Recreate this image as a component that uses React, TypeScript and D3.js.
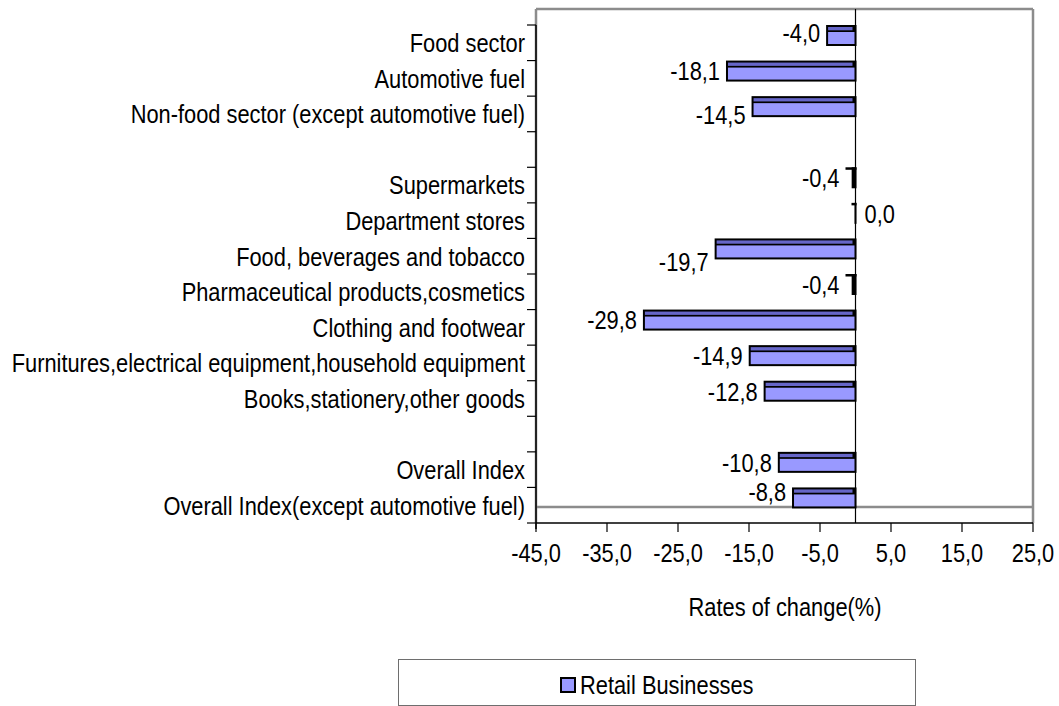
import React from "react";
import * as d3 from "d3";

const categories = [
  "Food sector",
  "Automotive fuel",
  "Non-food sector (except automotive fuel)",
  "",
  "Supermarkets",
  "Department stores",
  "Food, beverages and tobacco",
  "Pharmaceutical products,cosmetics",
  "Clothing and footwear",
  "Furnitures,electrical equipment,household equipment",
  "Books,stationery,other goods",
  "",
  "Overall Index",
  "Overall Index(except automotive fuel)",
];
const values: (number | null)[] = [
  -4.0, -18.1, -14.5, null, -0.4, 0.0, -19.7, -0.4, -29.8, -14.9, -12.8, null, -10.8, -8.8,
];
const xTickValues = [-45, -35, -25, -15, -5, 5, 15, 25];
const seriesName = "Retail Businesses";
const axisTitle = "Rates of change(%)";

const FONT = "'Liberation Sans', Arial, sans-serif";
const FS = 26;
const SX = 0.84;
const HALF = 9.3; // half cap height, for vertical centering

const fmt = (v: number) => d3.format(".1f")(v).replace(".", ",").replace("−", "-");

// small label nudges (vertical) to mimic the reference placement
const labelDy: Record<number, number> = { 0: -3, 2: 8, 6: 13, 13: -6 };

function T({ x, y, anchor, children }: { x: number; y: number; anchor: string; children: React.ReactNode }) {
  return (
    <text
      transform={`translate(${x},${y}) scale(${SX},1)`}
      textAnchor={anchor}
      fontFamily={FONT}
      fontSize={FS}
      fill="#000"
    >
      {children}
    </text>
  );
}

export default function App() {
  const W = 1059, H = 706;
  const plotL = 536, plotR = 1033, plotT = 9, plotB = 507;
  const axisT = 25, axisB = 523;

  const x = d3.scaleLinear().domain([-45, 25]).range([plotL, plotR]);
  const y = d3.scaleBand<number>().domain(categories.map((_, i) => i)).range([axisT, axisB]).padding(0);
  const bw = y.bandwidth();
  const barH = 21;
  const zx = x(0);
  const boundaries = d3.range(categories.length + 1).map((i) => axisT + i * bw);

  return (
    <svg width={W} height={H} style={{ position: "absolute", left: 0, top: 0, background: "#fff" }}>
      {/* grey plot border */}
      <line x1={plotL} x2={plotR} y1={plotT} y2={plotT} stroke="#8c8c8c" strokeWidth={2.5} />
      <line x1={plotL} x2={plotL} y1={plotT} y2={axisB} stroke="#8c8c8c" strokeWidth={2.5} />
      <line x1={plotR} x2={plotR} y1={plotT} y2={axisB} stroke="#8c8c8c" strokeWidth={2.5} />
      <line x1={plotL} x2={plotR} y1={plotB} y2={plotB} stroke="#8c8c8c" strokeWidth={2.5} />

      {/* zero line */}
      <line x1={zx} x2={zx} y1={plotT} y2={axisB} stroke="#000" strokeWidth={1.2} />

      {/* bars */}
      {values.map((v, i) => {
        if (v === null) return null;
        const yb = y(i)!;
        const x0 = Math.min(x(v), zx);
        const w = Math.max(zx - x0, 0);
        const outerL = x0 - 1;
        const outerR = zx + 1;
        const small = w <= 4;
        const stripL = v === 0 ? zx - 3 : Math.min(x0, zx - 9);
        return (
          <g key={i}>
            {small && <rect x={stripL - 1} y={yb} width={outerR - stripL + 1} height={2.5} fill="#000" />}
            <rect x={outerL} y={yb} width={outerR - outerL} height={barH} fill="#000" />
            {!small && (
              <>
                <rect x={x0 + 1} y={yb + 2} width={w - 4} height={3.3} fill="#6666c8" />
                <rect x={x0 + 1} y={yb + 7} width={w - 2} height={12} fill="#9999ff" />
              </>
            )}
          </g>
        );
      })}

      {/* value labels */}
      {values.map((v, i) => {
        if (v === null) return null;
        const cy = y(i)! + barH / 2 + (labelDy[i] || 0);
        if (v >= 0) {
          return (
            <T key={i} x={zx + 9} y={cy + HALF} anchor="start">
              {fmt(v)}
            </T>
          );
        }
        return (
          <T key={i} x={Math.min(x(v), zx - 9) - 7} y={cy + HALF} anchor="end">
            {fmt(v)}
          </T>
        );
      })}

      {/* category axis */}
      <line x1={plotL} x2={plotL} y1={axisT} y2={axisB + 6} stroke="#000" strokeWidth={1.5} />
      {boundaries.map((b, i) => (
        <line key={i} x1={plotL - 9} x2={plotL} y1={b} y2={b} stroke="#000" strokeWidth={1.2} />
      ))}
      {categories.map((c, i) =>
        c ? (
          <T key={i} x={plotL - 11} y={y(i)! + bw / 2 + HALF} anchor="end">
            {c}
          </T>
        ) : null
      )}

      {/* value axis */}
      <line x1={plotL} x2={plotR} y1={axisB} y2={axisB} stroke="#000" strokeWidth={1.5} />
      {xTickValues.map((t) => (
        <g key={t}>
          <line x1={x(t)} x2={x(t)} y1={axisB} y2={axisB + 9} stroke="#000" strokeWidth={1.2} />
          <T x={x(t)} y={553 + HALF} anchor="middle">
            {fmt(t)}
          </T>
        </g>
      ))}
      <T x={785} y={607 + HALF} anchor="middle">
        {axisTitle}
      </T>

      {/* legend */}
      <rect x={398.5} y={659.5} width={517} height={46} fill="#fff" stroke="#6e6e6e" strokeWidth={1} />
      <rect x={561} y={678} width={14} height={14} fill="#9999ff" stroke="#000" strokeWidth={2} />
      <T x={580} y={685 + HALF} anchor="start">
        {seriesName}
      </T>
    </svg>
  );
}
